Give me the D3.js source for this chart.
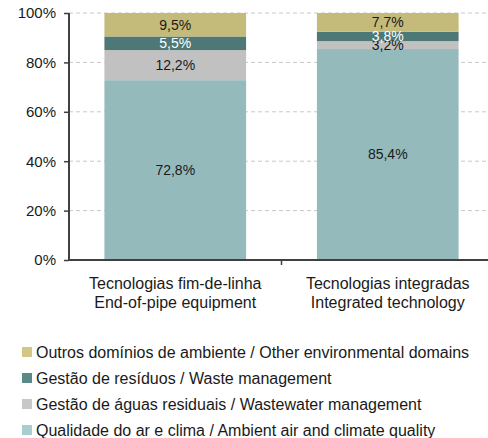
<!DOCTYPE html>
<html><head><meta charset="utf-8">
<script src="https://cdn.jsdelivr.net/npm/d3@7"></script>
<style>body{margin:0;background:#fff}svg{display:block;font-family:"Liberation Sans",Arial,sans-serif}</style>
</head><body>
<svg id="c" width="488" height="438"></svg>
<script>
const categories = [["Tecnologias fim-de-linha","End-of-pipe equipment"],["Tecnologias integradas","Integrated technology"]];
const seriesNames = ["Qualidade do ar e clima / Ambient air and climate quality","Gestão de águas residuais / Wastewater management","Gestão de resíduos / Waste management","Outros domínios de ambiente / Other environmental domains"];
const airClimate = [72.8, 85.4];
const wastewater = [12.2, 3.2];
const waste = [5.5, 3.8];
const other = [9.5, 7.7];
const yTicks = [0,20,40,60,80,100];

const colors = ["#94babb","#c1c1c1","#4d7876","#c4bb7a"];
const legendColors = ["#a8cfcf","#c8c8c8","#5a8a85","#d4c785"];
const labelColors = ["#1a1a1a","#1a1a1a","#ffffff","#1a1a1a"];
const series = [airClimate, wastewater, waste, other];

const svg = d3.select("#c");
const L = 69, R = 494, T = 13, B = 260;
const x = d3.scaleBand().domain([0,1]).range([L,R]).paddingInner(1/3).paddingOuter(1/6);
const y = d3.scaleLinear().domain([0,100]).range([B,T]);

// gridlines
svg.append("g").selectAll("line").data(yTicks.filter(d=>d>0)).join("line")
  .attr("x1",L).attr("x2",R).attr("y1",d=>y(d)).attr("y2",d=>y(d))
  .attr("stroke","#c8c8c8").attr("stroke-width",1).attr("stroke-dasharray","4,3");

// stacked bars
categories.forEach((c,i)=>{
  let acc = 0;
  series.forEach((s,k)=>{
    const v = s[i];
    const y0 = acc, y1 = Math.min(acc + v, 100);
    acc += v;
    svg.append("rect").attr("x",x(i)).attr("width",x.bandwidth())
      .attr("y",y(y1)).attr("height",y(y0)-y(y1))
      .attr("fill",colors[k]);
  });
});
categories.forEach((c,i)=>{
  let acc = 0;
  series.forEach((s,k)=>{
    const v = s[i];
    const mid = acc + v/2;
    acc += v;
    svg.append("text").attr("x",x(i)+x.bandwidth()/2).attr("y",y(mid)).attr("dy","0.35em")
      .attr("text-anchor","middle").attr("font-size",14).attr("fill",labelColors[k])
      .text(v.toFixed(1).replace(".",",")+"%");
  });
});

// y axis
const ya = svg.append("g").attr("transform",`translate(${L},0)`)
  .call(d3.axisLeft(y).tickValues(yTicks).tickFormat(d=>d+"%").tickSize(5).tickPadding(8));
ya.select(".domain").remove();
ya.selectAll(".tick line").attr("stroke","#404040").attr("stroke-width",1.5);
ya.selectAll(".tick text").attr("font-size",15).attr("fill","#1a1a1a").attr("font-family","Liberation Sans, Arial, sans-serif");
svg.append("line").attr("x1",L).attr("x2",L).attr("y1",T).attr("y2",B).attr("stroke","#404040").attr("stroke-width",2);

// x axis
svg.append("line").attr("x1",L-1).attr("x2",R).attr("y1",B).attr("y2",B).attr("stroke","#404040").attr("stroke-width",2);
const bx = (x(0)+x.bandwidth()+x(1))/2;
svg.append("line").attr("x1",bx).attr("x2",bx).attr("y1",B).attr("y2",B+5).attr("stroke","#404040").attr("stroke-width",1.5);
categories.forEach((c,i)=>{
  const t = svg.append("text").attr("x",x(i)+x.bandwidth()/2).attr("text-anchor","middle")
    .attr("font-size",16).attr("fill","#1a1a1a");
  c.forEach((line,j)=>t.append("tspan").attr("x",x(i)+x.bandwidth()/2).attr("y",289+j*19).text(line));
});

// legend
const legendOrder = [3,2,1,0];
legendOrder.forEach((k,j)=>{
  const cy = 352 + j*26;
  svg.append("rect").attr("x",22).attr("y",cy-5).attr("width",10).attr("height",10).attr("fill",legendColors[k]);
  svg.append("text").attr("x",36).attr("y",cy).attr("dy","0.35em").attr("font-size",16).attr("fill","#1a1a1a").text(seriesNames[k]);
});
</script>
</body></html>
